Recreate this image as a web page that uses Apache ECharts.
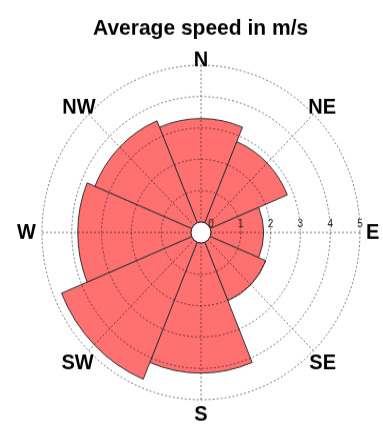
<!DOCTYPE html>
<html>
<head>
<meta charset="utf-8">
<script src="https://cdn.jsdelivr.net/npm/echarts@6/dist/echarts.min.js"></script>
<style>
html,body{margin:0;padding:0;background:#fff;overflow:hidden;}
#wrap{width:383px;height:426px;overflow:hidden;}
#chart{width:383px;height:405px;transform:scaleY(1.0519);transform-origin:0 0;}
</style>
</head>
<body>
<div id="wrap"><div id="chart"></div></div>
<script>
const title = 'Average speed in m/s';
const directions = ['N', 'NE', 'E', 'SE', 'S', 'SW', 'W', 'NW'];
const speeds = [3.3, 2.8, 1.76, 2.02, 4.15, 4.73, 3.8, 3.52];
const radiusTicks = [0, 1, 2, 3, 4, 5];
// labels for the overlay angle axis, counter-clockwise from East
const compassLabels = ['E', 'NE', 'N', 'NW', 'W', 'SW', 'S', 'SE'];

// per-label padding [top, right, bottom, left] to centre labels on a ring
const labelPad = [
  [0, 0, 0, 16],   // E
  [0, 0, 3, 2],    // NE
  [0, 0, 5, 0],    // N
  [0, 0, 3, 0],    // NW
  [0, 16, 0, 0],   // W
  [9, 2, 0, 0],    // SW
  [14, 0, 0, 0],   // S
  [9, 0, 0, 3]     // SE
];

const chart = echarts.init(document.getElementById('chart'), null, {renderer: 'canvas'});
const center = [201, 221];
const radius = [10, 159];
const gridLine = {color: 'rgba(0,0,0,0.5)', width: 1, type: [2, 2]};
const labelFont = {fontFamily: 'Liberation Sans, Arial, sans-serif', fontWeight: 'bold', fontSize: 20, color: '#000'};
const rich = {};
labelPad.forEach(function (p, i) {
  rich['d' + i] = Object.assign({padding: p}, labelFont);
});

chart.setOption({
  animation: false,
  backgroundColor: '#fff',
  title: {
    text: title,
    left: 88,
    top: 12,
    textStyle: {fontFamily: 'Liberation Sans, Arial, sans-serif', fontWeight: 'bold', fontSize: 21, color: '#000'}
  },
  polar: [
    {center: center, radius: radius},
    {center: center, radius: radius}
  ],
  angleAxis: [
    {
      polarIndex: 0,
      type: 'category',
      data: directions,
      startAngle: 112.5,
      clockwise: true,
      axisLine: {show: false},
      axisTick: {show: false},
      axisLabel: {show: false},
      splitLine: {show: false}
    },
    {
      polarIndex: 1,
      type: 'value',
      min: 0,
      max: 360,
      interval: 45,
      startAngle: 0,
      clockwise: false,
      z: 5,
      axisLine: {show: false},
      axisTick: {show: false},
      splitLine: {show: true, lineStyle: gridLine},
      axisLabel: Object.assign({
        show: true,
        margin: -10,
        rich: rich,
        formatter: function (v) {
          const i = Math.round(v / 45);
          return i < 8 ? '{d' + i + '|' + compassLabels[i] + '}' : '';
        }
      }, labelFont)
    }
  ],
  radiusAxis: [
    {
      polarIndex: 0,
      type: 'value',
      min: 0,
      max: 5,
      axisLine: {show: false},
      axisTick: {show: false},
      axisLabel: {show: false},
      splitLine: {show: false}
    },
    {
      polarIndex: 1,
      type: 'value',
      min: radiusTicks[0],
      max: radiusTicks[radiusTicks.length - 1],
      interval: 1,
      z: 5,
      axisLine: {show: false},
      axisTick: {show: false},
      splitLine: {show: true, lineStyle: gridLine},
      axisLabel: {
        show: true,
        margin: 3,
        fontFamily: 'Liberation Sans, Arial, sans-serif',
        fontSize: 10,
        color: '#222',
        formatter: function (v) { return String(v); }
      }
    }
  ],
  series: [{
    type: 'bar',
    coordinateSystem: 'polar',
    polarIndex: 0,
    data: speeds,
    barCategoryGap: '0%',
    itemStyle: {color: '#FF7070', borderColor: '#333', borderWidth: 1}
  }]
});
</script>
</body>
</html>
